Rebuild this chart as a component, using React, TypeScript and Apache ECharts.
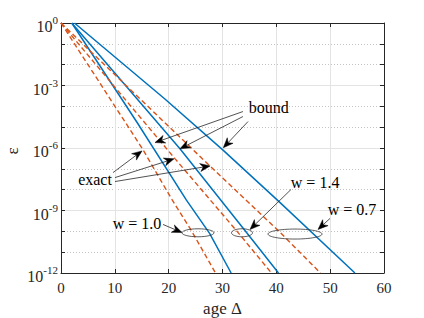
import React, { useEffect, useRef } from 'react';
import * as echarts from 'echarts';

// ---- data (age Δ, log10 ε) ----
const w10ExactAge = [0, 11.6, 15.2, 20.6, 24.3, 28.7];
const w10ExactExp = [0, -4.63, -6.07, -8.47, -10.0, -12];
const w10BoundAge = [2.0, 14.2, 23.3, 27.6, 31.6];
const w10BoundExp = [0, -4.8, -8.5, -10.1, -12];
const w14ExactAge = [0, 21.2, 32.7, 39.1];
const w14ExactExp = [0, -6.52, -10.0, -12];
const w14BoundAge = [2.0, 22.1, 34.5, 40.4];
const w14BoundExp = [0, -6.04, -10.07, -12];
const w07ExactAge = [0, 27.7, 40.5, 48.2];
const w07ExactExp = [0, -6.87, -10.0, -12];
const w07BoundAge = [2.5, 19.3, 30.1, 40.4, 54.6];
const w07BoundExp = [0, -3.65, -6.1, -8.55, -12];

const xTicks = { min: 0, max: 60, interval: 10 };
const yMinExp = -12;
const yMaxExp = 0;
const yTitle = 'ε';

// ---- annotations, in data coordinates [age, log10 ε] ----
const boundLabel = { text: 'bound', at: [38.6, -4.05] };
const boundArrows = [
  { from: [33.8, -4.25], to: [17.46, -5.74] },
  { from: [33.8, -4.49], to: [22.1, -6.04] },
  { from: [34.74, -4.73], to: [30.15, -5.99] },
];
const exactLabel = { text: 'exact', at: [6.32, -7.5] };
const exactArrows = [
  { from: [9.66, -7.18], to: [15.05, -6.14] },
  { from: [10.03, -7.42], to: [21.0, -6.52] },
  { from: [10.03, -7.61], to: [27.7, -6.86] },
];
const wLabels = [
  { text: 'w = 1.0', at: [14.12, -9.62], from: [18.95, -9.67], to: [22.48, -10.06], ell: [25.45, -10.07], rx: 16, ry: 4 },
  { text: 'w = 1.4', at: [47.2, -7.65], from: [42.73, -7.99], to: [35.11, -9.91], ell: [33.62, -10.07], rx: 10.5, ry: 4 },
  { text: 'w = 0.7', at: [54.06, -8.95], from: [49.97, -9.38], to: [47.74, -9.91], ell: [43.47, -10.13], rx: 27, ry: 5 },
];

const BLUE = '#0072BD';
const ORANGE = '#D95319';
const AXIS = '#262626';
const FONT = 'Liberation Serif';

const pts = (ages: number[], exps: number[]) => ages.map((a, i) => [a, Math.pow(10, exps[i])]);

export default function App() {
  const ref = useRef<HTMLDivElement>(null);
  useEffect(() => {
    if (!ref.current) return;
    const chart = echarts.init(ref.current, null, { renderer: 'svg' });
    const bound = (name: string, data: number[][]) => ({
      name, type: 'line', data, showSymbol: false, smooth: false,
      lineStyle: { color: BLUE, width: 1.5 }, xAxisIndex: 0, yAxisIndex: 0, z: 3,
    });
    const exact = (name: string, data: number[][]) => ({
      name, type: 'line', data, showSymbol: false, smooth: false,
      lineStyle: { color: ORANGE, width: 1.4, type: [5, 3] }, xAxisIndex: 0, yAxisIndex: 0, z: 3,
    });
    const yLabel = (v: number) => {
      const e = Math.round(Math.log10(v));
      if (e % 3 !== 0) return '';
      return `{b|10}{s|${e}}`;
    };
    chart.setOption({
      animation: false,
      grid: { left: 61, top: 23, width: 323, height: 250, containLabel: false, outerBoundsMode: 'none' },
      xAxis: [
        {
          type: 'value', position: 'bottom', min: xTicks.min, max: xTicks.max, interval: xTicks.interval,
          axisLine: { show: true, onZero: false, lineStyle: { color: AXIS, width: 1 } },
          axisTick: { show: true, inside: true, length: 4, lineStyle: { color: AXIS } },
          axisLabel: { fontSize: 15, fontFamily: FONT, color: AXIS, margin: 7 },
          splitLine: { show: true, lineStyle: { color: '#e3e3e3', width: 1 } },
          name: 'age Δ', nameLocation: 'middle', nameGap: 24,
          nameTextStyle: { fontSize: 17, fontFamily: FONT, color: AXIS },
        },
        {
          type: 'value', position: 'top', min: xTicks.min, max: xTicks.max, interval: xTicks.interval,
          axisLine: { show: true, onZero: false, lineStyle: { color: AXIS, width: 1 } },
          axisTick: { show: true, inside: true, length: 4, lineStyle: { color: AXIS } },
          axisLabel: { show: false }, splitLine: { show: false },
        },
      ],
      yAxis: [
        {
          type: 'log', logBase: 10, position: 'left', min: Math.pow(10, yMinExp), max: Math.pow(10, yMaxExp), interval: 1,
          axisLine: { show: true, onZero: false, lineStyle: { color: AXIS, width: 1 } },
          axisTick: { show: true, inside: true, length: 4, lineStyle: { color: AXIS } },
          axisLabel: {
            formatter: yLabel, margin: 3, color: AXIS,
            rich: {
              b: { fontSize: 16, fontFamily: FONT, color: AXIS, lineHeight: 16, verticalAlign: 'bottom' },
              s: { fontSize: 11, fontFamily: FONT, color: AXIS, lineHeight: 23, verticalAlign: 'top', padding: [3, 0, 0, 0] },
            },
          },
          splitLine: { show: true, lineStyle: { color: '#c4c4c4', width: 1, type: [1, 2] } },
        },
        {
          type: 'log', logBase: 10, position: 'right', min: Math.pow(10, yMinExp), max: Math.pow(10, yMaxExp), interval: 1,
          axisLine: { show: true, onZero: false, lineStyle: { color: AXIS, width: 1 } },
          axisTick: { show: true, inside: true, length: 4, lineStyle: { color: AXIS } },
          axisLabel: { show: false }, splitLine: { show: false },
        },
        {
          type: 'log', logBase: 10, position: 'left', min: Math.pow(10, yMinExp), max: Math.pow(10, yMaxExp), interval: 3,
          axisLine: { show: false }, axisTick: { show: false }, axisLabel: { show: false },
          splitLine: { show: true, lineStyle: { color: '#e3e3e3', width: 1 } },
        },
      ],
      series: [
        exact('w=1.0 exact', pts(w10ExactAge, w10ExactExp)),
        bound('w=1.0 bound', pts(w10BoundAge, w10BoundExp)),
        exact('w=1.4 exact', pts(w14ExactAge, w14ExactExp)),
        bound('w=1.4 bound', pts(w14BoundAge, w14BoundExp)),
        exact('w=0.7 exact', pts(w07ExactAge, w07ExactExp)),
        bound('w=0.7 bound', pts(w07BoundAge, w07BoundExp)),
      ],
    });

    const px = (p: number[]) =>
      chart.convertToPixel({ xAxisIndex: 0, yAxisIndex: 0 }, [p[0], Math.pow(10, p[1])]) as number[];
    const arrow = (from: number[], to: number[]) => {
      const s = px(from), t = px(to);
      const dx = t[0] - s[0], dy = t[1] - s[1];
      const len = Math.hypot(dx, dy) || 1;
      const ux = dx / len, uy = dy / len, nx = -uy, ny = ux;
      const L = 10, W = 4, N = 3;
      const bx = t[0] - L * ux, by = t[1] - L * uy;
      const mx = t[0] - (L - N) * ux, my = t[1] - (L - N) * uy;
      return [
        { type: 'line', silent: true, z: 10, shape: { x1: s[0], y1: s[1], x2: mx, y2: my }, style: { stroke: AXIS, lineWidth: 0.8 } },
        {
          type: 'polygon', silent: true, z: 10,
          shape: { points: [[t[0], t[1]], [bx + W * nx, by + W * ny], [mx, my], [bx - W * nx, by - W * ny]] },
          style: { fill: '#000', stroke: '#000', lineWidth: 0.5 },
        },
      ];
    };
    const text = (t: string, at: number[]) => {
      const p = px(at);
      return {
        type: 'text', silent: true, z: 10, x: p[0], y: p[1],
        style: { text: t, fontSize: 16, fontFamily: FONT, fill: '#000', align: 'center', verticalAlign: 'middle' },
      };
    };
    const elements: any[] = [];
    // y-axis title, rotated, to the left of the tick labels
    const mid = px([0, (yMinExp + yMaxExp) / 2]);
    elements.push({
      type: 'text', silent: true, z: 10, x: 12, y: mid[1] + 3, rotation: Math.PI / 2,
      style: { text: yTitle, fontSize: 17, fontFamily: FONT, fill: AXIS, align: 'center', verticalAlign: 'middle' },
    });
    elements.push(text(boundLabel.text, boundLabel.at));
    boundArrows.forEach((a) => elements.push(...arrow(a.from, a.to)));
    elements.push(text(exactLabel.text, exactLabel.at));
    exactArrows.forEach((a) => elements.push(...arrow(a.from, a.to)));
    wLabels.forEach((w) => {
      elements.push(text(w.text, w.at));
      elements.push(...arrow(w.from, w.to));
      const c = px(w.ell);
      elements.push({
        type: 'ellipse', silent: true, z: 10,
        shape: { cx: c[0], cy: c[1], rx: w.rx, ry: w.ry },
        style: { fill: 'none', stroke: '#333', lineWidth: 0.8 },
      });
    });
    chart.setOption({ graphic: elements });

    return () => chart.dispose();
  }, []);
  return <div ref={ref} style={{ position: 'fixed', left: 0, top: 0, width: 424, height: 318, background: '#fff' }} />;
}
